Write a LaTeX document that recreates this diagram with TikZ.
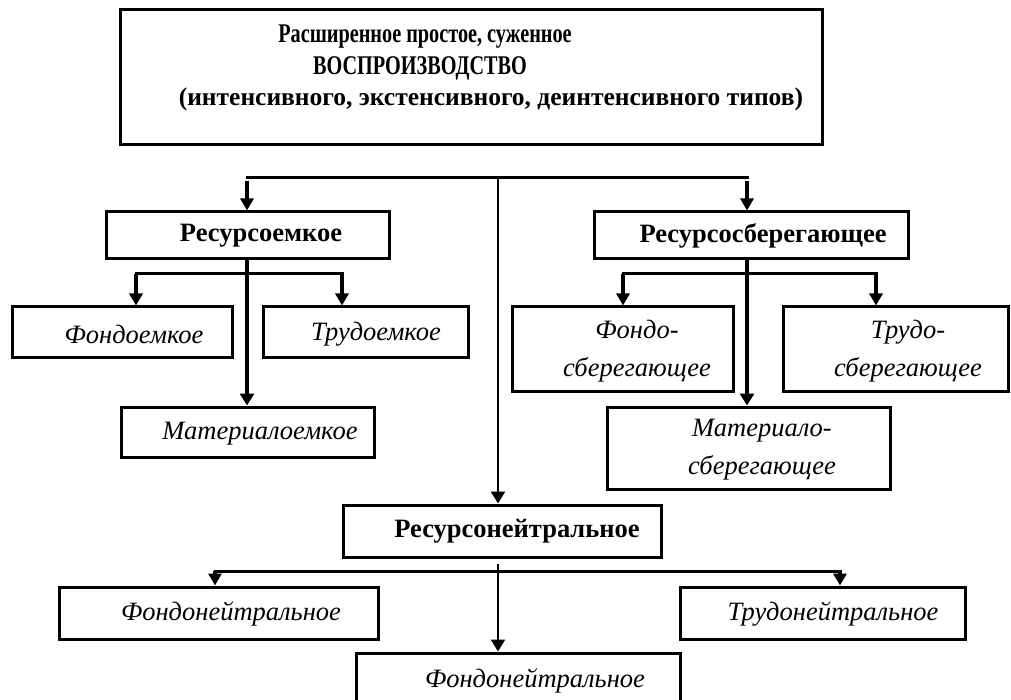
\documentclass[tikz,border=0pt]{standalone}
\usepackage{fontspec}
\setmainfont{Liberation Serif}
\newfontfamily\condfont[FakeStretch=0.75]{Liberation Serif}
\usetikzlibrary{arrows.meta}
\tikzset{
  box/.style={draw, line width=3pt, inner sep=0pt, fill=white},
  btxt/.style={font=\bfseries\fontsize{26.5}{30}\selectfont, inner sep=0pt},
  itxt/.style={font=\itshape\fontsize{26.5}{38}\selectfont, inner sep=0pt, align=center},
  ttxt/.style={font=\condfont\bfseries\fontsize{27}{30}\selectfont, inner sep=0pt},
  hline/.style={line width=3pt},
  vthick/.style={line width=4.5pt, -{Triangle[width=14pt,length=12pt]}},
  vthin/.style={line width=2.4pt, -{Triangle[width=14pt,length=12pt]}},
  vmid/.style={line width=3.5pt, -{Triangle[width=13pt,length=12pt]}}
}
\begin{document}
\begin{tikzpicture}[x=1pt,y=-1pt]
\useasboundingbox (0,0) rectangle (1011,700);
\clip (0,0) rectangle (1011,700);
% top box
\node[box, minimum width=702pt, minimum height=135pt] (top) at (471,77.5) {};
\node[ttxt] (t1) at (425,37) {Расширенное простое, суженное};
\node[ttxt] (t2) at (420,68) {ВОСПРОИЗВОДСТВО};
\node[ttxt, font=\bfseries\fontsize{25.5}{28}\selectfont] (t3) at (491,99) {(интенсивного, экстенсивного, деинтенсивного типов)};
% level 1
\node[box, minimum width=283pt, minimum height=47pt] (re) at (247.5,235.5) {};
\node[btxt] (re-t) at (261,236) {Ресурсоемкое};
\node[box, minimum width=314pt, minimum height=47pt] (rs) at (751,235.5) {};
\node[btxt] (rs-t) at (763,236) {Ресурсосберегающее};
% level 2 left
\node[box, minimum width=220pt, minimum height=50pt] (fe) at (122,332) {};
\node[itxt] (fe-t) at (134,334) {Фондоемкое};
\node[box, minimum width=205pt, minimum height=50pt] (te) at (365.5,332) {};
\node[itxt] (te-t) at (376,334) {Трудоемкое};
\node[box, minimum width=253pt, minimum height=50pt] (me) at (247.5,432) {};
\node[itxt] (me-t) at (260,434) {Материалоемкое};
% level 2 right
\node[box, minimum width=221pt, minimum height=84pt] (fs) at (622.5,349) {};
\node[itxt] (fs-t) at (637,351) {Фондо-\\сберегающее};
\node[box, minimum width=225pt, minimum height=84pt] (ts) at (895.5,349) {};
\node[itxt] (ts-t) at (908,351) {Трудо-\\сберегающее};
\node[box, minimum width=283pt, minimum height=82pt] (ms) at (748.5,448) {};
\node[itxt] (ms-t) at (762,450) {Материало-\\сберегающее};
% neutral
\node[box, minimum width=318pt, minimum height=52pt] (rn) at (502,531) {};
\node[btxt] (rn-t) at (517,531) {Ресурсонейтральное};
\node[box, minimum width=319pt, minimum height=52pt] (fn) at (218.5,613) {};
\node[itxt] (fn-t) at (231,614) {Фондонейтральное};
\node[box, minimum width=285pt, minimum height=52pt] (tn) at (822.5,613) {};
\node[itxt] (tn-t) at (833,614) {Трудонейтральное};
\node[box, minimum width=324pt, minimum height=74pt] (bn) at (518,690) {};
\node[itxt] (bn-t) at (535,681) {Фондонейтральное};
% main connectors
\coordinate (hl) at (247,178);
\coordinate (hc) at (498,178);
\coordinate (hr) at (747,178);
\draw[hline] ([xshift=-1.5pt]hl) -- ([xshift=1.5pt]hr);
\draw[vmid] ([yshift=-3pt]hl) -- (hl |- re.north);
\draw[vmid] ([yshift=-3pt]hr) -- (hr |- rs.north);
\draw[vthin] (hc) -- (hc |- rn.north);
% resource-intensive branch
\coordinate (ll) at (136,274);
\coordinate (lr) at (342,274);
\draw[hline] ([xshift=-1.5pt]ll) -- ([xshift=1.5pt]lr);
\draw[vthick] (hl |- re.south) -- (hl |- me.north);
\draw[vmid] (ll) -- (ll |- fe.north);
\draw[vmid] (lr) -- (lr |- te.north);
% resource-saving branch
\coordinate (rl) at (623,274);
\coordinate (rr) at (876,274);
\draw[hline] ([xshift=-1.5pt]rl) -- ([xshift=1.5pt]rr);
\draw[vthick] (hr |- rs.south) -- (hr |- ms.north);
\draw[vmid] (rl) -- (rl |- fs.north);
\draw[vmid] (rr) -- (rr |- ts.north);
% neutral branch
\coordinate (nl) at (215,571);
\coordinate (nr) at (840,571);
\draw[hline] ([xshift=-1.5pt]nl) -- ([xshift=1.5pt]nr);
\draw[vthin] ([yshift=-5pt]hc |- rn.south) -- (hc |- bn.north);
\draw[vmid] (nl) -- (nl |- fn.north);
\draw[vmid] (nr) -- (nr |- tn.north);
\end{tikzpicture}
\end{document}
